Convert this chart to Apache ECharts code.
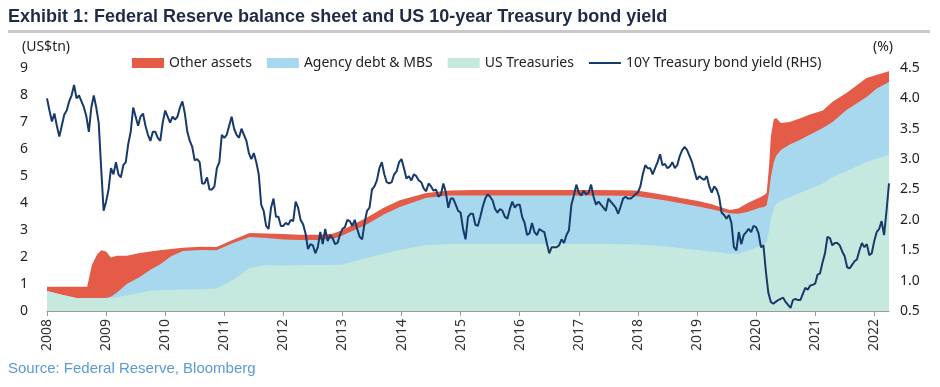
<!DOCTYPE html>
<html>
<head>
<meta charset="utf-8">
<script src="https://cdn.jsdelivr.net/npm/echarts@6/dist/echarts.min.js"></script>
<style>
html,body{margin:0;padding:0;background:#fff;}
#chart{width:940px;height:387px;}
</style>
</head>
<body>
<div id="chart"></div>
<script>
// ---------- Data ----------
var titleText = 'Exhibit 1: Federal Reserve balance sheet and US 10-year Treasury bond yield';
var sourceText = 'Source: Federal Reserve, Bloomberg';
var seriesNames = ['Other assets', 'Agency debt & MBS', 'US Treasuries', '10Y Treasury bond yield (RHS)'];
var yearTicks = [2008,2009,2010,2011,2012,2013,2014,2015,2016,2017,2018,2019,2020,2021,2022];
var leftTicks = [0,1,2,3,4,5,6,7,8,9];
var rightTicks = [0.5,1.0,1.5,2.0,2.5,3.0,3.5,4.0,4.5];

// Balance sheet (US$tn), observation dates in decimal years
var bsDates = [2008.00,2008.25,2008.50,2008.68,2008.76,2008.85,2008.92,2009.00,2009.08,2009.18,
  2009.35,2009.57,2009.75,2009.91,2010.10,2010.30,2010.59,2010.87,2011.15,2011.43,
  2011.72,2012.00,2012.28,2012.60,2012.85,2013.00,2013.40,2013.70,2013.97,2014.42,
  2014.81,2015.25,2015.75,2016.25,2016.75,2017.25,2017.75,2017.98,2018.25,2018.50,
  2018.75,2019.00,2019.25,2019.55,2019.70,2019.85,2020.06,2020.14,2020.18,2020.22,
  2020.25,2020.30,2020.34,2020.42,2020.57,2020.74,2020.90,2021.13,2021.30,2021.53,
  2021.87,2022.05,2022.25];
var usTreasuries = [0.74,0.60,0.48,0.48,0.48,0.48,0.48,0.48,0.48,0.50,
  0.58,0.67,0.75,0.77,0.78,0.80,0.81,0.83,1.15,1.59,
  1.70,1.68,1.70,1.70,1.70,1.72,1.96,2.12,2.26,2.44,
  2.48,2.48,2.48,2.48,2.48,2.48,2.47,2.46,2.43,2.38,
  2.32,2.26,2.20,2.12,2.12,2.22,2.40,2.45,2.55,2.95,
  3.40,3.80,3.95,4.08,4.22,4.37,4.52,4.72,4.96,5.18,
  5.52,5.65,5.78];
var agencyMBS = [0,0,0,0,0,0,0,0,0.05,0.18,
  0.42,0.59,0.78,0.95,1.25,1.42,1.45,1.42,1.37,1.15,
  1.00,0.97,0.93,0.93,0.98,1.08,1.23,1.45,1.59,1.75,
  1.80,1.80,1.80,1.80,1.80,1.80,1.80,1.79,1.74,1.70,
  1.66,1.62,1.57,1.50,1.48,1.45,1.42,1.40,1.38,1.45,
  1.55,1.70,1.80,1.88,1.95,1.96,2.00,2.06,2.05,2.26,
  2.41,2.60,2.70];
var otherAssets = [0.16,0.30,0.42,0.42,1.22,1.62,1.77,1.72,1.45,1.37,
  1.05,0.89,0.67,0.53,0.27,0.12,0.12,0.12,0.12,0.15,
  0.17,0.20,0.19,0.19,0.19,0.20,0.25,0.25,0.25,0.18,
  0.18,0.20,0.20,0.20,0.20,0.20,0.20,0.21,0.20,0.20,
  0.20,0.20,0.18,0.12,0.20,0.32,0.38,0.45,0.45,0.95,
  1.50,1.60,1.40,1.00,0.83,0.80,0.75,0.65,0.75,0.63,
  0.70,0.50,0.40];

// 10Y yield (%), twice-monthly readings per year (1st and 15th)
var yield2008 = [4.00,3.80,3.62,3.75,3.55,3.37,3.55,3.73,3.80,3.95,4.05,4.22,4.00,4.05,3.95,3.85,3.70,3.45,3.85,4.05,3.85,3.60,2.85,2.15];
var yield2009 = [2.30,2.50,2.85,2.75,2.95,2.75,2.70,2.90,2.95,3.25,3.45,3.85,3.70,3.55,3.70,3.75,3.55,3.40,3.30,3.45,3.45,3.35,3.30,3.60];
var yield2010 = [3.80,3.70,3.60,3.70,3.65,3.70,3.85,3.95,3.75,3.45,3.30,3.20,2.98,3.00,2.95,2.60,2.60,2.70,2.50,2.50,2.55,2.85,2.95,3.40];
var yield2011 = [3.35,3.40,3.55,3.70,3.50,3.40,3.35,3.50,3.40,3.30,3.10,3.00,3.10,2.95,2.75,2.25,2.15,1.90,1.85,2.20,2.35,2.05,2.05,1.90];
var yield2012 = [1.90,1.95,1.92,2.00,1.98,2.30,2.20,2.00,1.93,1.78,1.52,1.60,1.58,1.45,1.55,1.80,1.60,1.85,1.65,1.75,1.70,1.60,1.62,1.75];
var yield2013 = [1.85,1.88,2.00,1.98,1.90,2.00,1.85,1.72,1.68,1.95,2.15,2.20,2.50,2.55,2.65,2.85,2.95,2.75,2.62,2.60,2.62,2.75,2.80,2.95];
var yield2014 = [3.00,2.85,2.68,2.72,2.65,2.75,2.72,2.65,2.62,2.52,2.47,2.60,2.55,2.48,2.50,2.38,2.42,2.60,2.45,2.20,2.35,2.35,2.25,2.15];
var yield2015 = [2.12,1.85,1.68,2.05,2.10,2.10,1.92,1.90,2.05,2.22,2.35,2.42,2.38,2.32,2.18,2.12,2.18,2.15,2.05,2.02,2.18,2.30,2.20,2.25];
var yield2016 = [2.25,2.05,1.95,1.75,1.78,1.95,1.80,1.75,1.85,1.82,1.80,1.62,1.45,1.55,1.55,1.55,1.58,1.68,1.62,1.75,1.83,2.25,2.40,2.58];
var yield2017 = [2.45,2.40,2.48,2.42,2.45,2.58,2.38,2.25,2.30,2.25,2.20,2.15,2.35,2.30,2.25,2.20,2.10,2.22,2.35,2.38,2.35,2.35,2.38,2.42];
var yield2018 = [2.45,2.55,2.75,2.90,2.85,2.85,2.75,2.85,2.95,3.08,2.90,2.92,2.85,2.88,2.95,2.85,2.90,3.05,3.15,3.20,3.15,3.05,2.95,2.80];
var yield2019 = [2.66,2.72,2.68,2.66,2.72,2.55,2.45,2.55,2.50,2.38,2.12,2.08,2.02,2.08,1.95,1.55,1.50,1.80,1.60,1.75,1.80,1.85,1.80,1.90];
var yield2020 = [1.88,1.78,1.55,1.58,1.15,0.80,0.65,0.62,0.65,0.68,0.70,0.72,0.65,0.60,0.55,0.68,0.70,0.68,0.68,0.78,0.88,0.85,0.92,0.93];
var yield2021 = [0.95,1.10,1.12,1.30,1.45,1.72,1.70,1.58,1.62,1.62,1.58,1.48,1.40,1.22,1.20,1.26,1.32,1.35,1.50,1.62,1.55,1.60,1.42,1.45];
var yield2022 = [1.65,1.80,1.85,1.98,1.75,2.15,2.60];
var yieldByYear = [yield2008,yield2009,yield2010,yield2011,yield2012,yield2013,yield2014,yield2015,yield2016,yield2017,yield2018,yield2019,yield2020,yield2021,yield2022];

// ---------- Build ----------
// cumulative layers (drawn back to front, each filled to zero)
var layerTsy = bsDates.map(function(x,i){ return [x, usTreasuries[i]]; });
var layerMBS = bsDates.map(function(x,i){ return [x, +(usTreasuries[i] + agencyMBS[i]).toFixed(3)]; });
var layerOther = bsDates.map(function(x,i){ return [x, +(usTreasuries[i] + agencyMBS[i] + otherAssets[i]).toFixed(3)]; });
var yieldData = [];
yieldByYear.forEach(function(arr, k){
  var yr = yearTicks[k];
  arr.forEach(function(v, i){ yieldData.push([yr + i/24, v]); });
});

var C_RED = '#E45B47', C_BLUE = '#A8D8EE', C_MINT = '#C6E9DF', C_LINE = '#173A6A';
var FONT = "'Noto Sans', 'Open Sans', sans-serif";

var chart = echarts.init(document.getElementById('chart'), null, {renderer:'canvas'});
function areaSeries(name, data, color, z){
  return {name:name, type:'line', data:data, symbol:'none', showSymbol:false, z:z,
    lineStyle:{width:0, color:color}, itemStyle:{color:color},
    areaStyle:{color:color, opacity:1, origin:'start'}, emphasis:{disabled:true}};
}
var option = {
  animation:false,
  backgroundColor:'#fff',
  title:{text:titleText, left:3, top:3,
    textStyle:{fontSize:18, fontWeight:'bold', color:'#1F2A44', fontFamily:"'Liberation Sans', Arial, sans-serif"}},
  legend:{top:51, left:127, itemWidth:32, itemHeight:10, itemGap:15,
    textStyle:{fontSize:14, color:'#222', fontFamily:FONT},
    data:[{name:seriesNames[0], icon:'rect'},{name:seriesNames[1], icon:'rect'},{name:seriesNames[2], icon:'rect'},
          {name:seriesNames[3], icon:'path://M0,0H32V2.2H0Z'}]},
  grid:{left:47, right:51, top:68, bottom:76, containLabel:false},
  xAxis:{type:'value', min:2008, max:2022.25,
    axisLine:{show:true, lineStyle:{color:'#9a9a9a', width:1}},
    axisTick:{show:true, length:5, lineStyle:{color:'#9a9a9a'}, customValues:yearTicks},
    axisLabel:{rotate:90, fontSize:14, color:'#333', fontFamily:FONT, margin:8, customValues:yearTicks,
      formatter:function(v){ return String(Math.round(v)); }},
    splitLine:{show:false}},
  yAxis:[
    {type:'value', min:0, max:9, interval:1, position:'left',
     axisLine:{show:false}, axisTick:{show:false}, splitLine:{show:false},
     axisLabel:{fontSize:14, color:'#222', fontFamily:FONT, margin:19, customValues:leftTicks}},
    {type:'value', min:0.5, max:4.5, interval:0.5, position:'right',
     axisLine:{show:false}, axisTick:{show:false}, splitLine:{show:false},
     axisLabel:{fontSize:14, color:'#222', fontFamily:FONT, margin:11, customValues:rightTicks,
       formatter:function(v){ return v.toFixed(1); }}}
  ],
  graphic:[
    {type:'rect', left:8, top:30, shape:{width:922, height:3}, style:{fill:'#C8C8C8'}},
    {type:'text', left:22, top:40, style:{text:'(US$tn)', fontSize:14, fill:'#222', fontFamily:FONT}},
    {type:'text', left:873, top:40, style:{text:'(%)', fontSize:14, fill:'#222', fontFamily:FONT}},
    {type:'text', left:8, top:361, style:{text:sourceText, fontSize:15, fill:'#5B9BD5', fontFamily:"'Liberation Sans Narrow', 'Liberation Sans', sans-serif"}}
  ],
  series:[
    areaSeries(seriesNames[0], layerOther, C_RED, 1),
    areaSeries(seriesNames[1], layerMBS, C_BLUE, 2),
    areaSeries(seriesNames[2], layerTsy, C_MINT, 3),
    {name:seriesNames[3], type:'line', yAxisIndex:1, data:yieldData, symbol:'none', showSymbol:false,
     lineStyle:{width:2, color:C_LINE}, itemStyle:{color:C_LINE}, z:5, emphasis:{disabled:true}}
  ]
};
chart.setOption(option);
</script>
</body>
</html>
